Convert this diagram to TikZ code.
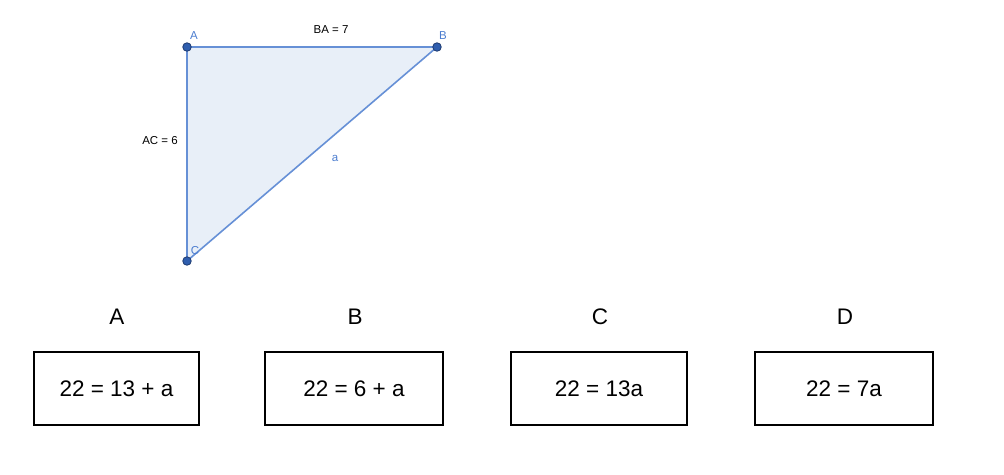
\documentclass[tikz,border=0pt]{standalone}
\usepackage{fontspec}
\setmainfont{Liberation Sans}
\definecolor{edgeblue}{HTML}{6690D6}
\definecolor{labelblue}{HTML}{4C7DCF}
\definecolor{areablue}{HTML}{E8EFF8}
\definecolor{dotblue}{HTML}{2F5EAE}
\definecolor{dotrim}{HTML}{1D3A70}
\tikzset{
 point/.style={circle, fill=dotblue, draw=dotrim, line width=0.8pt, inner sep=0pt, minimum size=8.5pt},
 side/.style={draw=edgeblue, line width=1.6pt},
 small/.style={font=\fontsize{11.5}{13}\selectfont},
 big/.style={font=\fontsize{22.5}{26}\selectfont},
 choice/.style={draw, line width=1.6pt, minimum height=73pt, inner sep=0pt, big}
}

\begin{document}
\begin{tikzpicture}[x=1pt, y=-1pt]
 \useasboundingbox (0,0) rectangle (1004,474);

 \coordinate (a) at (187,47);
 \coordinate (b) at (437,47);
 \coordinate (c) at (187,261);

 \fill[areablue] (a) -- (b) -- (c) -- cycle;
 \draw[side] (a) -- (b);
 \draw[side] (b) -- (c);
 \draw[side] (c) -- (a);

 \node[point] (A) at (a) {};
 \node[point] (B) at (b) {};
 \node[point] (C) at (c) {};

 \node[small, text=labelblue] (labA) at (194,36) {A};
 \node[small, text=labelblue] (labB) at (443,36) {B};
 \node[small, text=labelblue] (labC) at (195,251) {C};
 \node[small] (sideBA) at (331,30) {BA = 7};
 \node[small] (sideAC) at (160,141) {AC = 6};
 \node[small, text=labelblue] (sidea) at (335,158) {a};

 \node[big] (keyA) at (117,317) {A};
 \node[big] (keyB) at (355,317) {B};
 \node[big] (keyC) at (600,317) {C};
 \node[big] (keyD) at (845,317) {D};

 \node[choice, minimum width=165pt] (optA) at (116.5,388.5) {22 = 13 + a};
 \node[choice, minimum width=178pt] (optB) at (354,388.5) {22 = 6 + a};
 \node[choice, minimum width=176pt] (optC) at (599,388.5) {22 = 13a};
 \node[choice, minimum width=178pt] (optD) at (844,388.5) {22 = 7a};
\end{tikzpicture}
\end{document}
